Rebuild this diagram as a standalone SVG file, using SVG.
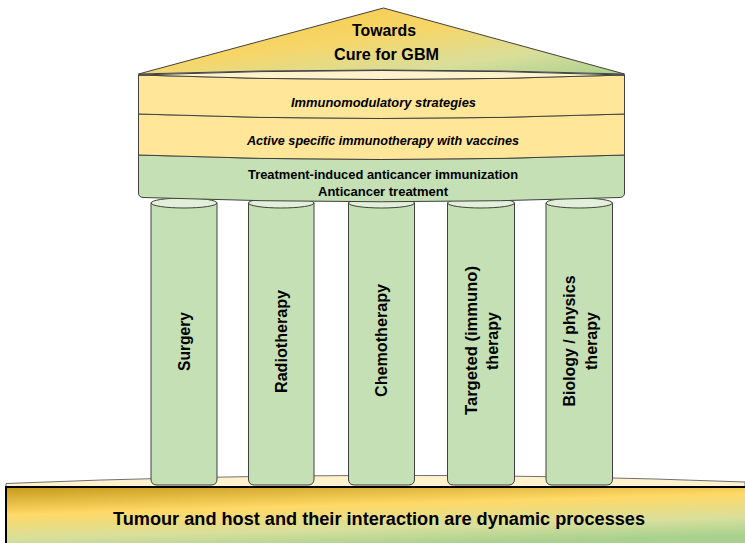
<svg xmlns="http://www.w3.org/2000/svg" width="745" height="543" viewBox="0 0 745 543">
<defs>
<linearGradient id="gPed" x1="0" y1="0" x2="1" y2="1">
<stop offset="0" stop-color="#F2C744"/>
<stop offset="0.45" stop-color="#F7D668"/>
<stop offset="0.75" stop-color="#D9DE9A"/>
<stop offset="1" stop-color="#A9D18E"/>
</linearGradient>
<linearGradient id="gBase" x1="0" y1="0" x2="0.35" y2="1" gradientUnits="objectBoundingBox">
<stop offset="0" stop-color="#C59A1A"/>
<stop offset="0.4" stop-color="#FFD966"/>
<stop offset="0.75" stop-color="#D8DF9C"/>
<stop offset="1" stop-color="#A9D18E"/>
</linearGradient>
<style>
.ln{stroke:#404040;stroke-width:1;}
.t{font-family:"Liberation Sans",Arial,sans-serif;font-weight:bold;fill:#000;text-anchor:middle;}
.col{fill:#C5E0B4;stroke:#404040;stroke-width:1;}
.cap{fill:#E2F0D9;stroke:#404040;stroke-width:1;}
</style>
</defs>

<g id="base-top">
<path d="M6,487 L6,483.5 Q380,468 745,482 L745,487 Z" fill="#FFF2CC" stroke="#707070" stroke-width="1"/>
</g>

<g id="columns">
<g id="col-surgery">
<path class="col" d="M151,203 L151,479 Q151,485 157,485 L211,485 Q217,485 217,479 L217,203 Z"/>
<ellipse class="cap" cx="184" cy="203" rx="33" ry="5"/>
<text class="t" font-size="16" dominant-baseline="central" transform="translate(184,341.5) rotate(-90)" textLength="59" lengthAdjust="spacingAndGlyphs">Surgery</text>
</g>
<g id="col-radiotherapy">
<path class="col" d="M248.5,203 L248.5,479 Q248.5,485 254.5,485 L308,485 Q314,485 314,479 L314,203 Z"/>
<ellipse class="cap" cx="281.2" cy="203" rx="32.8" ry="5"/>
<text class="t" font-size="16" dominant-baseline="central" transform="translate(281.2,341.5) rotate(-90)" textLength="103" lengthAdjust="spacingAndGlyphs">Radiotherapy</text>
</g>
<g id="col-chemotherapy">
<path class="col" d="M348.5,203 L348.5,479 Q348.5,485 354.5,485 L408.5,485 Q414.5,485 414.5,479 L414.5,203 Z"/>
<ellipse class="cap" cx="381.5" cy="203" rx="33" ry="5"/>
<text class="t" font-size="16" dominant-baseline="central" transform="translate(381.5,340.5) rotate(-90)" textLength="113" lengthAdjust="spacingAndGlyphs">Chemotherapy</text>
</g>
<g id="col-targeted">
<path class="col" d="M447.5,203 L447.5,479 Q447.5,485 453.5,485 L508.5,485 Q514.5,485 514.5,479 L514.5,203 Z"/>
<ellipse class="cap" cx="481" cy="203" rx="33.5" ry="5"/>
<text class="t" font-size="16" dominant-baseline="central" transform="translate(471.5,340.5) rotate(-90)" textLength="149" lengthAdjust="spacingAndGlyphs">Targeted (immuno)</text>
<text class="t" font-size="16" dominant-baseline="central" transform="translate(492.5,341) rotate(-90)" textLength="58" lengthAdjust="spacingAndGlyphs">therapy</text>
</g>
<g id="col-biology">
<path class="col" d="M546,203 L546,479 Q546,485 552,485 L606.5,485 Q612.5,485 612.5,479 L612.5,203 Z"/>
<ellipse class="cap" cx="579.2" cy="203" rx="33.2" ry="5"/>
<text class="t" font-size="16" dominant-baseline="central" transform="translate(569.5,341) rotate(-90)" textLength="131" lengthAdjust="spacingAndGlyphs">Biology / physics</text>
<text class="t" font-size="16" dominant-baseline="central" transform="translate(591,341) rotate(-90)" textLength="58" lengthAdjust="spacingAndGlyphs">therapy</text>
</g>
</g>

<g id="base">
<rect x="6" y="487" width="745" height="62" fill="url(#gBase)" stroke="#000" stroke-width="2"/>
<text class="t" x="379" y="525" font-size="18" textLength="532" lengthAdjust="spacingAndGlyphs">Tumour and host and their interaction are dynamic processes</text>
</g>

<g id="entablature">
<path id="green-band" d="M138.5,155 Q381,164 624.5,155 L624.5,193 Q624.5,197 620,197.5 Q381,206 143,197.5 Q138.5,197 138.5,193 Z" fill="#C5E0B4" stroke="#404040" stroke-width="1"/>
<path id="band-2" d="M138.5,114 Q381,123 624.5,114 L624.5,155 Q381,164 138.5,155 Z" fill="#FFE699" stroke="#404040" stroke-width="1"/>
<path id="band-1" d="M138.5,75 Q381,84 624.5,75 L624.5,114 Q381,123 138.5,114 Z" fill="#FFE699" stroke="#404040" stroke-width="1"/>
<path id="top-ellipse" d="M138.5,75 Q381,66 624.5,75 Q381,84 138.5,75 Z" fill="#FFF2CC" stroke="#404040" stroke-width="1"/>
<text class="t" x="383.5" y="107" font-size="13" font-style="italic" textLength="185" lengthAdjust="spacingAndGlyphs">Immunomodulatory strategies</text>
<text class="t" x="383" y="145" font-size="13" font-style="italic" textLength="272" lengthAdjust="spacingAndGlyphs">Active specific immunotherapy with vaccines</text>
<text class="t" x="383" y="179" font-size="13" textLength="270" lengthAdjust="spacingAndGlyphs">Treatment-induced anticancer immunization</text>
<text class="t" x="383" y="195.5" font-size="13" textLength="130" lengthAdjust="spacingAndGlyphs">Anticancer treatment</text>
</g>

<g id="pediment">
<path d="M138.5,74 L383.5,8 L624.5,74 Q381,66 138.5,74 Z" fill="url(#gPed)" stroke="#404040" stroke-width="1"/>
<text class="t" x="384" y="36" font-size="16" textLength="64" lengthAdjust="spacingAndGlyphs">Towards</text>
<text class="t" x="386.5" y="60" font-size="16" textLength="105" lengthAdjust="spacingAndGlyphs">Cure for GBM</text>
</g>
</svg>
